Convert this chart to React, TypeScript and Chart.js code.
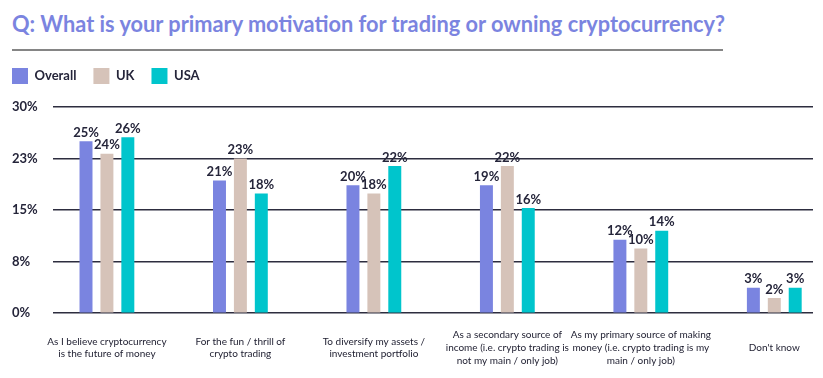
import React, { useEffect, useRef } from 'react';
import { Chart, registerables } from 'chart.js';

Chart.register(...registerables);

const titleText = 'Q: What is your primary motivation for trading or owning cryptocurrency?';
const categories: (string | string[])[] = [
  ['As I believe cryptocurrency', 'is the future of money'],
  ['For the fun / thrill of', 'crypto trading'],
  ['To diversify my assets /', 'investment portfolio'],
  ['As a secondary source of', 'income (i.e. crypto trading is', 'not my main / only job)'],
  ['As my primary source of making', 'money (i.e. crypto trading is my', 'main / only job)'],
  "Don't know",
];
const seriesNames = ['Overall', 'UK', 'USA'];
const overallValues = [25.0, 19.3, 18.6, 18.6, 10.7, 3.7];
const ukValues = [23.2, 22.5, 17.4, 21.4, 9.4, 2.2];
const usaValues = [25.6, 17.4, 21.4, 15.3, 12.0, 3.7];
const overallLabels = ['25%', '21%', '20%', '19%', '12%', '3%'];
const ukLabels = ['24%', '23%', '18%', '22%', '10%', '2%'];
const usaLabels = ['26%', '18%', '22%', '16%', '14%', '3%'];
const yTickValues = [0, 7.5, 15, 22.5, 30];
const yTickLabels = ['0%', '8%', '15%', '23%', '30%'];

const colors = ['#7a84e0', '#d6c3b9', '#00c5cc'];
const textColor = '#25253a';
const baseFont = 'Lato, "Open Sans", sans-serif';

const valueLabelPlugin = {
  id: 'valueLabels',
  afterDatasetsDraw(chart: any) {
    const ctx = chart.ctx;
    const all = [overallLabels, ukLabels, usaLabels];
    ctx.save();
    ctx.font = `bold 13px ${baseFont}`;
    ctx.fillStyle = textColor;
    ctx.textAlign = 'center';
    ctx.textBaseline = 'bottom';
    chart.data.datasets.forEach((_: any, di: number) => {
      const meta = chart.getDatasetMeta(di);
      meta.data.forEach((bar: any, i: number) => {
        ctx.fillText(all[di][i], bar.x, bar.y - 2);
      });
    });
    ctx.restore();
  },
};

// Align the legend's first swatch with the y tick labels (left edge of the layout).
const legendShiftPlugin = {
  id: 'legendShift',
  afterLayout(chart: any) {
    const lg = chart.legend;
    if (lg) {
      const dx = lg.options.labels.padding;
      lg.left -= dx;
      lg.right -= dx;
    }
  },
};

export default function App() {
  const canvasRef = useRef<HTMLCanvasElement>(null);
  const titleRef = useRef<HTMLSpanElement>(null);

  useEffect(() => {
    let alive = true;
    const fitTitle = () => {
      const t = titleRef.current;
      if (!t) return;
      t.style.transform = 'none';
      const w = t.getBoundingClientRect().width;
      if (w > 0) t.style.transform = `scaleX(${713 / w})`;
    };
    fitTitle();
    const canvas = canvasRef.current;
    if (!canvas) return;
    const seriesValues = [overallValues, ukValues, usaValues];
    const chart = new Chart(canvas, {
      type: 'bar',
      data: {
        datasets: seriesNames.map((name, di) => ({
          label: name,
          data: seriesValues[di].map((v, i) => ({ x: i, y: v })),
          backgroundColor: colors[di],
          borderWidth: 0,
          categoryPercentage: 0.47,
          barPercentage: 0.62,
        })),
      },
      options: {
        responsive: false,
        animation: false,
        devicePixelRatio: 1,
        layout: { padding: { top: 51, left: 17, right: 10, bottom: 0 } },
        plugins: {
          legend: {
            position: 'top',
            align: 'start',
            labels: {
              boxWidth: 16,
              boxHeight: 16,
              padding: 17,
              color: textColor,
              font: { family: baseFont, size: 13, weight: 'bold' },
            },
          },
          subtitle: {
            display: true,
            text: '',
            position: 'top',
            weight: 500,
            font: { size: 13, lineHeight: 1 },
            padding: 0,
          },
          tooltip: { enabled: false },
        },
        scales: {
          x: {
            type: 'linear',
            min: -0.406,
            max: 5.29,
            offset: false,
            grid: { display: false, drawTicks: false },
            border: { display: false },
            afterBuildTicks: (axis: any) => {
              axis.ticks = categories.map((_, i) => ({ value: i }));
            },
            ticks: {
              autoSkip: false,
              maxRotation: 0,
              minRotation: 0,
              padding: 22,
              crossAlign: 'center',
              color: '#1c1c2e',
              font: { family: baseFont, size: 10, weight: 'normal', lineHeight: 1.26 },
              callback: (v: any) => categories[v as number],
            },
          },
          y: {
            min: 0,
            max: 30,
            grid: { color: '#2d2d3f', lineWidth: 1.5, drawTicks: false },
            border: { display: false },
            afterBuildTicks: (axis: any) => {
              axis.ticks = yTickValues.map((v) => ({ value: v }));
            },
            ticks: {
              padding: 7.5,
              crossAlign: 'far',
              color: textColor,
              font: { family: baseFont, size: 13, weight: 'bold' },
              callback: (_v: any, i: number) => yTickLabels[i],
            },
          },
        },
      },
      plugins: [valueLabelPlugin, legendShiftPlugin],
    } as any);

    const fonts: any = (document as any).fonts;
    if (fonts && fonts.load) {
      Promise.all([
        fonts.load('bold 13px Lato'),
        fonts.load('10px Lato'),
        fonts.load('bold 23px Lato'),
      ])
        .catch(() => null)
        .then(() => {
          if (!alive) return;
          fitTitle();
          chart.update();
        });
    }
    return () => {
      alive = false;
      chart.destroy();
    };
  }, []);

  return (
    <div style={{ position: 'absolute', left: 0, top: 0, width: 823, height: 378, background: '#fff', overflow: 'hidden' }}>
      <div style={{ position: 'absolute', left: 12, top: 12, whiteSpace: 'nowrap', lineHeight: '23px' }}>
        <span
          ref={titleRef}
          style={{
            display: 'inline-block',
            fontFamily: baseFont,
            fontWeight: 'bold',
            fontSize: 23,
            color: '#7b84e0',
            transformOrigin: 'left top',
          }}
        >
          {titleText}
        </span>
      </div>
      <div style={{ position: 'absolute', left: 12, top: 49, width: 711, height: 2, background: '#858585' }} />
      <canvas
        ref={canvasRef}
        width={828}
        height={395}
        style={{ position: 'absolute', left: -5, top: 0, width: 828, height: 395 }}
      />
    </div>
  );
}
